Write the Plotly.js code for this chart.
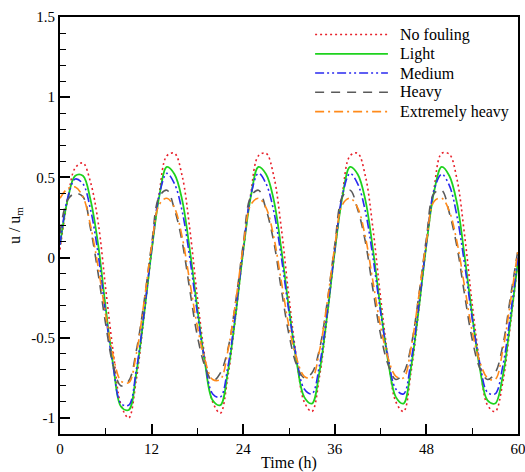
<!DOCTYPE html>
<html>
<head>
<meta charset="utf-8">
<script src="https://cdn.plot.ly/plotly-3.0.1.min.js"></script>
<style>html,body{margin:0;padding:0;background:#fff;}#chart{width:525px;height:472px;}</style>
</head>
<body>
<div id="chart"></div>
<script>
const timeH = [0,1,2,3,4,5,6,7,8,9,10,11,12,13,14,15,16,17,18,19,20,21,22,23,24,25,26,27,28,29,30,31,32,33,34,35,36,37,38,39,40,41,42,43,44,45,46,47,48,49,50,51,52,53,54,55,56,57,58,59,60];

const noFouling = [0.05,0.36,0.56,0.59,0.47,0.22,-0.20,-0.60,-0.92,-1.00,
  -0.76,-0.37,0.04,0.40,0.635,0.65,0.51,0.18,-0.25,-0.63,-0.90,-0.97,
  -0.74,-0.37,0.04,0.40,0.635,0.65,0.51,0.18,-0.25,-0.63,-0.90,-0.96,
  -0.74,-0.37,0.04,0.40,0.635,0.65,0.51,0.18,-0.25,-0.63,-0.90,-0.96,
  -0.71,-0.33,0.08,0.43,0.65,0.645,0.49,0.14,-0.29,-0.66,-0.92,-0.96,
  -0.78,-0.42,-0.02];

const light = [0.08,0.36,0.51,0.51,0.36,0.08,-0.32,-0.68,-0.93,-0.95,
  -0.72,-0.36,0.04,0.38,0.565,0.52,0.36,0.05,-0.32,-0.66,-0.89,-0.92,
  -0.71,-0.36,0.04,0.38,0.565,0.52,0.36,0.05,-0.32,-0.65,-0.87,-0.91,
  -0.71,-0.36,0.04,0.38,0.565,0.52,0.36,0.05,-0.32,-0.65,-0.87,-0.91,
  -0.68,-0.32,0.08,0.41,0.565,0.51,0.34,0.01,-0.36,-0.69,-0.89,-0.91,
  -0.74,-0.40,-0.02];

const medium = [0.08,0.37,0.49,0.46,0.30,0.02,-0.36,-0.69,-0.91,-0.92,
  -0.70,-0.35,0.05,0.39,0.525,0.46,0.29,0.00,-0.35,-0.65,-0.85,-0.87,
  -0.68,-0.34,0.05,0.39,0.525,0.46,0.29,0.00,-0.34,-0.63,-0.82,-0.85,
  -0.67,-0.34,0.05,0.39,0.525,0.46,0.29,0.00,-0.34,-0.63,-0.82,-0.85,
  -0.64,-0.30,0.09,0.42,0.52,0.45,0.26,-0.04,-0.38,-0.66,-0.84,-0.85,
  -0.68,-0.36,0.00];

const heavy = [0.15,0.36,0.40,0.38,0.18,-0.10,-0.42,-0.68,-0.80,-0.77,
  -0.58,-0.28,0.08,0.38,0.42,0.30,0.10,-0.20,-0.49,-0.68,-0.77,-0.72,
  -0.57,-0.28,0.08,0.38,0.42,0.30,0.10,-0.20,-0.48,-0.67,-0.75,-0.72,
  -0.57,-0.28,0.08,0.38,0.42,0.30,0.10,-0.20,-0.48,-0.67,-0.76,-0.72,
  -0.55,-0.24,0.12,0.40,0.42,0.28,0.07,-0.23,-0.51,-0.69,-0.76,-0.72,
  -0.55,-0.25,0.05];

const extremelyHeavy = [0.37,0.43,0.44,0.38,0.20,-0.06,-0.36,-0.62,-0.77,-0.78,
  -0.60,-0.28,0.07,0.33,0.37,0.31,0.13,-0.15,-0.43,-0.64,-0.76,-0.76,
  -0.58,-0.28,0.07,0.33,0.37,0.31,0.13,-0.15,-0.43,-0.63,-0.74,-0.75,
  -0.58,-0.28,0.07,0.33,0.37,0.31,0.13,-0.15,-0.43,-0.63,-0.74,-0.75,
  -0.56,-0.24,0.10,0.35,0.37,0.29,0.10,-0.18,-0.46,-0.65,-0.75,-0.76,
  -0.58,-0.28,0.05];

const seriesNames = ['No fouling','Light','Medium','Heavy','Extremely heavy'];
const seriesValues = [noFouling, light, medium, heavy, extremelyHeavy];
const seriesColors = ['#e8202a','#1ed21e','#2a2af0','#5a5a5a','#ff8a1a'];
const seriesDash = ['2px,3px','solid','9px,3px,2px,3px,2px,3px','9px,7px','9px,4px,2px,4px'];
const seriesWidth = [1.6,1.8,1.6,1.6,1.6];

const xTickVals = [0,12,24,36,48,60];
const xTickText = ['0','12','24','36','48','60'];
const yTickVals = [-1,-0.5,0,0.5,1,1.5];
const yTickText = ['-1','-0.5','0','0.5','1','1.5'];

const FAMILY = 'Liberation Serif, Times New Roman, serif';
const mkFont = (s) => ({family: FAMILY, size: s, color: '#000'});

const traces = seriesNames.map((name, i) => ({
  x: timeH,
  y: seriesValues[i],
  name: name,
  type: 'scatter',
  mode: 'lines',
  showlegend: false,
  line: {color: seriesColors[i], width: seriesWidth[i], dash: seriesDash[i], shape: 'spline', smoothing: 1}
}));

// Legend (inside plot, top right), built from the series arrays
const legX0 = 0.557, legX1 = 0.716, legTextX = 0.739, legTop = 0.958, legStep = 0.0462;
const shapes = seriesNames.map((n, i) => ({
  type: 'line', xref: 'paper', yref: 'paper',
  x0: legX0, x1: legX1, y0: legTop - i * legStep, y1: legTop - i * legStep,
  line: {color: seriesColors[i], width: seriesWidth[i], dash: seriesDash[i]}
}));
const annotations = seriesNames.map((n, i) => ({
  xref: 'paper', yref: 'paper', x: legTextX, y: legTop - i * legStep,
  xanchor: 'left', yanchor: 'middle', showarrow: false,
  text: n, font: mkFont(16)
}));

const layout = {
  width: 525, height: 472,
  margin: {l: 60, r: 7, t: 17, b: 38},
  paper_bgcolor: '#fff', plot_bgcolor: '#fff',
  font: mkFont(15),
  showlegend: false,
  shapes: shapes,
  annotations: annotations,
  xaxis: {
    range: [0, 60], showgrid: false, zeroline: false,
    showline: true, linecolor: '#000', linewidth: 2, mirror: true,
    ticks: 'inside', ticklen: 10, tickwidth: 2, tickcolor: '#000',
    tickmode: 'array', tickvals: xTickVals, ticktext: xTickText,
    tickfont: mkFont(15), ticklabeloverflow: 'allow',
    minor: {ticks: 'inside', dtick: 6, tick0: 0, ticklen: 6, tickwidth: 1, tickcolor: '#000', showgrid: false},
    title: {text: 'Time (h)', font: mkFont(16), standoff: 2}
  },
  yaxis: {
    range: [-1.1, 1.5], showgrid: false, zeroline: false,
    showline: true, linecolor: '#000', linewidth: 2, mirror: true,
    ticks: 'inside', ticklen: 10, tickwidth: 2, tickcolor: '#000',
    tickmode: 'array', tickvals: yTickVals, ticktext: yTickText,
    tickfont: mkFont(15),
    minor: {ticks: 'inside', dtick: 0.1, tick0: 0, ticklen: 6, tickwidth: 1, tickcolor: '#000', showgrid: false},
    title: {text: 'u / u<sub>m</sub>', font: mkFont(16), standoff: 7}
  }
};

Plotly.newPlot('chart', traces, layout, {displayModeBar: false, staticPlot: true});
</script>
</body>
</html>
